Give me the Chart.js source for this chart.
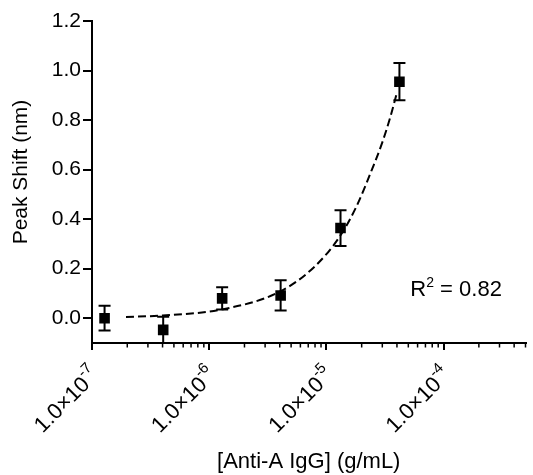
<!DOCTYPE html>
<html>
<head>
<meta charset="utf-8">
<script src="https://cdn.jsdelivr.net/npm/chart.js@4.4.0/dist/chart.umd.min.js"></script>
<style>
  html, body { margin: 0; padding: 0; background: #fff; }
  canvas { display: block; }
</style>
</head>
<body>
<canvas id="grafico" width="533" height="475"></canvas>
<script>
// concentrações (g/mL) e deslocamento de pico (nm)
const concentracoes = [1.28e-7, 4.05e-7, 1.29e-6, 4.07e-6, 1.32e-5, 4.2e-5];
const deslocamentos = [0.00, -0.047, 0.08, 0.092, 0.364, 0.955];
const erros = [0.05, 0.053, 0.045, 0.061, 0.072, 0.075];

// curva de ajuste (tracejada)
const ajusteX = [1.95e-7, 4e-7, 1.3e-6, 4e-6, 8e-6, 1.3e-5, 1.8e-5, 2.4e-5, 3e-5, 3.5e-5, 3.97e-5];
const ajusteY = [0.005, 0.011, 0.036, 0.107, 0.21, 0.33, 0.45, 0.59, 0.71, 0.81, 0.905];

// marcas dos eixos
const ticksX = [1e-7, 1e-6, 1e-5, 1e-4];
const expoentesX = ['-7', '-6', '-5', '-4'];
const ticksY = [0, 0.2, 0.4, 0.6, 0.8, 1.0, 1.2];
const multMenores = [2, 3, 4, 5, 6, 7, 8, 9];

const fonte = '"Liberation Sans", Arial, Helvetica, sans-serif';

// barras de erro desenhadas com as escalas do gráfico
const barrasErro = {
  id: 'barrasErro',
  afterDatasetsDraw(chart) {
    const ctx = chart.ctx;
    const sx = chart.scales.x, sy = chart.scales.y;
    ctx.save();
    ctx.strokeStyle = '#000';
    ctx.lineWidth = 2;
    concentracoes.forEach((c, i) => {
      const px = sx.getPixelForValue(c);
      const yTop = sy.getPixelForValue(deslocamentos[i] + erros[i]);
      const yBot = sy.getPixelForValue(deslocamentos[i] - erros[i]);
      ctx.beginPath();
      ctx.moveTo(px, yTop); ctx.lineTo(px, yBot);
      ctx.moveTo(px - 6, yTop); ctx.lineTo(px + 6, yTop);
      ctx.moveTo(px - 6, yBot); ctx.lineTo(px + 6, yBot);
      ctx.stroke();
    });
    ctx.restore();
  }
};

// marcas menores do eixo log, rótulos com expoente, título do eixo y e R²
const extras = {
  id: 'extras',
  afterDraw(chart) {
    const ctx = chart.ctx;
    const sx = chart.scales.x, sy = chart.scales.y;
    const base = chart.chartArea.bottom;
    ctx.save();
    ctx.strokeStyle = '#000';
    ctx.fillStyle = '#000';
    ctx.lineWidth = 1.5;
    ticksX.forEach(d => {
      multMenores.forEach(m => {
        const v = d * m;
        if (v > sx.max * 1.0001) return;
        const px = sx.getPixelForValue(v);
        ctx.beginPath();
        ctx.moveTo(px, base); ctx.lineTo(px, base + 4.5);
        ctx.stroke();
      });
    });

    // rótulos 1.0×10^n girados a 45°
    ticksX.forEach((v, i) => {
      const px = sx.getPixelForValue(v);
      ctx.save();
      ctx.translate(px + 4, base + 29);
      ctx.rotate(-Math.PI / 4);
      ctx.textAlign = 'right';
      ctx.textBaseline = 'middle';
      ctx.font = '15px ' + fonte;
      ctx.fillText(expoentesX[i], 0, -9);
      const wSup = ctx.measureText(expoentesX[i]).width;
      ctx.font = '22px ' + fonte;
      ctx.fillText('1.0×10', -wSup, 0);
      ctx.restore();
    });

    // título do eixo y
    ctx.save();
    ctx.translate(21, 172);
    ctx.rotate(-Math.PI / 2);
    ctx.textAlign = 'center';
    ctx.textBaseline = 'middle';
    ctx.font = '21px ' + fonte;
    ctx.fillText('Peak Shift (nm)', 0, 0);
    ctx.restore();

    // R² = 0.82
    const x0 = sx.getPixelForValue(5.2e-5);
    const y0 = sy.getPixelForValue(0.089);
    ctx.textBaseline = 'alphabetic';
    ctx.textAlign = 'left';
    ctx.font = '22px ' + fonte;
    ctx.fillText('R', x0, y0);
    const wR = ctx.measureText('R').width;
    ctx.font = '14px ' + fonte;
    ctx.fillText('2', x0 + wR, y0 - 9);
    const w2 = ctx.measureText('2').width;
    ctx.font = '22px ' + fonte;
    ctx.fillText(' = 0.82', x0 + wR + w2, y0);
    ctx.restore();
  }
};

const ctx = document.getElementById('grafico').getContext('2d');
new Chart(ctx, {
  type: 'scatter',
  data: {
    datasets: [{
      label: 'Peak Shift',
      data: concentracoes.map((c, i) => ({ x: c, y: deslocamentos[i] })),
      pointStyle: 'rect',
      pointRadius: 7.5,
      backgroundColor: '#000',
      borderColor: '#000',
      borderWidth: 0
    }, {
      label: 'Ajuste',
      data: ajusteX.map((c, i) => ({ x: c, y: ajusteY[i] })),
      showLine: true,
      pointRadius: 0,
      borderColor: '#000',
      borderWidth: 2,
      borderDash: [8, 4],
      cubicInterpolationMode: 'monotone'
    }]
  },
  options: {
    responsive: false,
    animation: false,
    layout: { padding: { top: 21, right: 5, left: 0, bottom: 0 } },
    plugins: { legend: { display: false }, tooltip: { enabled: false } },
    scales: {
      x: {
        type: 'logarithmic',
        min: 1e-7,
        max: 5e-4,
        afterBuildTicks: s => { s.ticks = ticksX.map(v => ({ value: v, major: true })); },
        afterFit: s => { s.height = 132; },
        border: { display: true, color: '#000', width: 2 },
        grid: { drawOnChartArea: false, drawTicks: true, tickLength: 7, color: '#000', lineWidth: 2 },
        ticks: { display: false },
        title: {
          display: true,
          text: '[Anti-A IgG] (g/mL)',
          color: '#000',
          font: { family: fonte, size: 22 },
          padding: { top: 0, bottom: 0 }
        }
      },
      y: {
        type: 'linear',
        min: -0.1,
        max: 1.2,
        afterBuildTicks: s => { s.ticks = ticksY.map(v => ({ value: v })); },
        afterFit: s => { s.width = 92; },
        border: { display: true, color: '#000', width: 2 },
        grid: { drawOnChartArea: false, drawTicks: true, tickLength: 9, color: '#000', lineWidth: 2 },
        ticks: {
          color: '#000',
          font: { family: fonte, size: 21 },
          padding: 2,
          callback: v => v.toFixed(1)
        },
        title: { display: false }
      }
    }
  },
  plugins: [barrasErro, extras]
});
</script>
</body>
</html>
